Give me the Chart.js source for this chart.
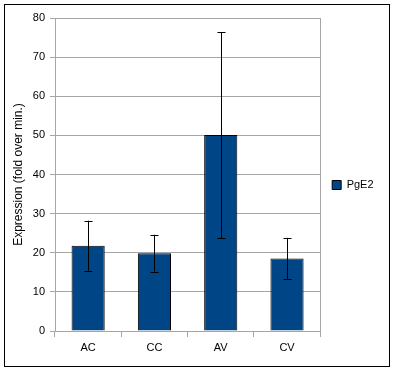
<!DOCTYPE html>
<html>
<head>
<meta charset="utf-8">
<script src="https://cdn.jsdelivr.net/npm/chart.js@4/dist/chart.umd.min.js"></script>
<style>
  html, body { margin: 0; padding: 0; background: #fff; }
  #wrap { position: relative; width: 394px; height: 373px; }
  #frame { position: absolute; left: 4px; top: 4px; width: 384px; height: 361px; border: 1px solid #000; pointer-events: none; }
  canvas { position: absolute; left: 0; top: 0; }
</style>
</head>
<body>
<div id="wrap">
  <canvas id="chart" width="394" height="373"></canvas>
  <div id="frame"></div>
</div>
<script>
// Data
const categories = ['AC', 'CC', 'AV', 'CV'];
const pge2Values = [21.8, 19.9, 50.1, 18.5];
const pge2Errors = [6.4, 4.7, 26.3, 5.3];
const yTicks = [0, 10, 20, 30, 40, 50, 60, 70, 80];

const gridColor = '#a6a6a6';

Chart.defaults.font.family = '"Liberation Sans", Arial, sans-serif';
Chart.defaults.font.size = 11;
Chart.defaults.color = '#000';

// Error bars drawn through the y scale
const errorBars = {
    id: 'errorBars',
    afterDatasetsDraw(chart) {
        const ctx = chart.ctx;
        const yScale = chart.scales.y;
        chart.data.datasets.forEach((ds, di) => {
            const meta = chart.getDatasetMeta(di);
            meta.data.forEach((bar, i) => {
                const err = ds.errors[i];
                const v = ds.data[i];
                const top = yScale.getPixelForValue(v + err);
                const bottom = yScale.getPixelForValue(v - err);
                const x = Math.round(bar.x) + 0.5;
                const cap = 4;
                ctx.save();
                ctx.strokeStyle = '#000';
                ctx.lineWidth = 1;
                ctx.beginPath();
                ctx.moveTo(x, top);
                ctx.lineTo(x, bottom);
                ctx.moveTo(x - cap, Math.round(top) + 0.5);
                ctx.lineTo(x + cap, Math.round(top) + 0.5);
                ctx.moveTo(x - cap, Math.round(bottom) + 0.5);
                ctx.lineTo(x + cap, Math.round(bottom) + 0.5);
                ctx.stroke();
                ctx.restore();
            });
        });
    }
};

const ctx = document.getElementById('chart').getContext('2d');
new Chart(ctx, {
    type: 'bar',
    data: {
        labels: categories,
        datasets: [{
            label: 'PgE2',
            data: pge2Values,
            errors: pge2Errors,
            backgroundColor: '#004586',
            borderColor: '#000',
            borderWidth: 1,
            barPercentage: 0.5,
            categoryPercentage: 1.0
        }]
    },
    options: {
        responsive: false,
        animation: false,
        layout: { padding: { top: 18, bottom: 21, left: 11, right: 12 } },
        plugins: {
            legend: {
                position: 'right',
                labels: {
                    boxWidth: 9,
                    boxHeight: 9,
                    padding: 12,
                    font: { size: 11 }
                }
            },
            tooltip: { enabled: false }
        },
        scales: {
            x: {
                grid: {
                    offset: true,
                    drawOnChartArea: false,
                    drawTicks: true,
                    tickLength: 6,
                    color: gridColor
                },
                border: { color: gridColor },
                ticks: { padding: 4 },
                afterFit(scale) { scale.height = 21; }
            },
            y: {
                min: 0,
                max: 80,
                afterBuildTicks(scale) {
                    scale.ticks = yTicks.map(v => ({ value: v }));
                },
                grid: { color: gridColor, tickLength: 5 },
                border: { color: gridColor },
                ticks: { padding: 5 },
                title: {
                    display: true,
                    text: 'Expression (fold over min.)',
                    font: { size: 12 },
                    padding: 0
                },
                afterFit(scale) { scale.width = 44; }
            },
            y2: {
                position: 'right',
                min: 0,
                max: 80,
                grid: { drawOnChartArea: false, drawTicks: false },
                border: { color: gridColor },
                ticks: { display: false },
                afterFit(scale) { scale.width = 0; }
            }
        }
    },
    plugins: [errorBars]
});
</script>
</body>
</html>
